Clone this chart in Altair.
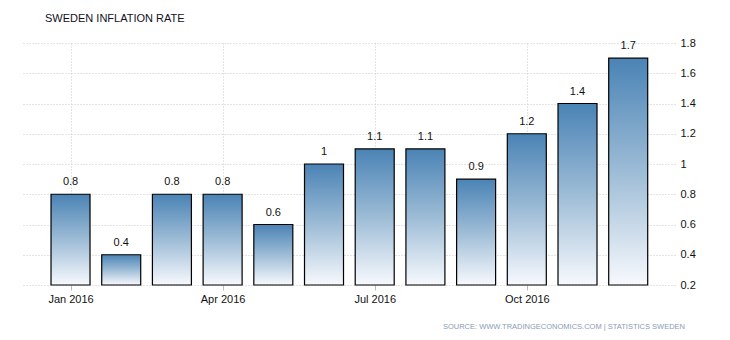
import altair as alt
import pandas as pd

months = ["Jan 2016", "Feb 2016", "Mar 2016", "Apr 2016", "May 2016", "Jun 2016",
          "Jul 2016", "Aug 2016", "Sep 2016", "Oct 2016", "Nov 2016", "Dec 2016"]
inflation = [0.8, 0.4, 0.8, 0.8, 0.6, 1.0, 1.1, 1.1, 0.9, 1.2, 1.4, 1.7]
tick_labels = ["Jan 2016", "Apr 2016", "Jul 2016", "Oct 2016"]
y_ticks = [0.2, 0.4, 0.6, 0.8, 1.0, 1.2, 1.4, 1.6, 1.8]
title_text = "SWEDEN INFLATION RATE"
source_text = "SOURCE: WWW.TRADINGECONOMICS.COM | STATISTICS SWEDEN"

df = pd.DataFrame({"idx": list(range(len(months))), "month": months, "value": inflation,
                   "label": [f"{v:g}" for v in inflation]})
one = pd.DataFrame({"title": [title_text], "source": [source_text]})

tick_idx = [months.index(t) for t in tick_labels]
label_expr = "{" + ",".join(f"'{i}':'{t}'" for i, t in zip(tick_idx, tick_labels)) + "}[datum.value]"

FONT = "Liberation Sans"
grid_color = "#c8c8c8"

x_enc = alt.X("idx:Q",
              scale=alt.Scale(domain=[-0.957, 11.923], nice=False, zero=False, padding=0),
              axis=alt.Axis(values=tick_idx, tickCount=len(tick_idx), labelExpr=label_expr,
                            title=None, grid=True, gridColor=grid_color, gridDash=[1, 2],
                            domain=False, tickColor="#bbbbbb", tickSize=5,
                            labelPadding=3, labelFont=FONT, labelFontSize=11,
                            labelColor="#111111"))
y_scale = alt.Scale(domain=[0.2, 1.8], nice=False, zero=False)

gradient = alt.Gradient(gradient="linear", x1=0, y1=0, x2=0, y2=1,
                        stops=[alt.GradientStop(color="#4a83b5", offset=0),
                               alt.GradientStop(color="#9dbcd6", offset=0.5),
                               alt.GradientStop(color="#f7f9fd", offset=1)])

bars = alt.Chart(df).mark_bar(width=39, fill=gradient, stroke="black", strokeWidth=1.2).encode(
    x=x_enc,
    y=alt.Y("value:Q", scale=y_scale,
            axis=alt.Axis(orient="right", values=y_ticks, tickCount=len(y_ticks),
                          format="~g", title=None,
                          grid=True, gridColor=grid_color, gridDash=[1, 2],
                          domain=False, ticks=False, labelPadding=5, labelOverlap=False,
                          labelFont=FONT, labelFontSize=11, labelColor="#111111")),
    y2=alt.datum(0.2),
)

labels = alt.Chart(df).mark_text(baseline="bottom", dy=-7, font=FONT, fontSize=11,
                                 color="#111111").encode(
    x="idx:Q", y="value:Q", text="label:N")

title = alt.Chart(one).mark_text(align="left", baseline="alphabetic", font=FONT,
                                 fontSize=11, color="#111122").encode(
    x=alt.value(23), y=alt.value(-21), text="title:N")

source = alt.Chart(one).mark_text(align="right", baseline="alphabetic", font=FONT,
                                  fontSize=7.5, color="#8a9cb8").encode(
    x=alt.value(663), y=alt.value(286), text="source:N")

chart = alt.layer(bars, labels, title, source).properties(
    width=653, height=242,
    autosize=alt.AutoSizeParams(type="none"),
    padding={"left": 22, "top": 43, "right": 55, "bottom": 55},
).configure_view(stroke=None)

chart.save("out.html", embed_options={"renderer": "svg", "actions": False})
